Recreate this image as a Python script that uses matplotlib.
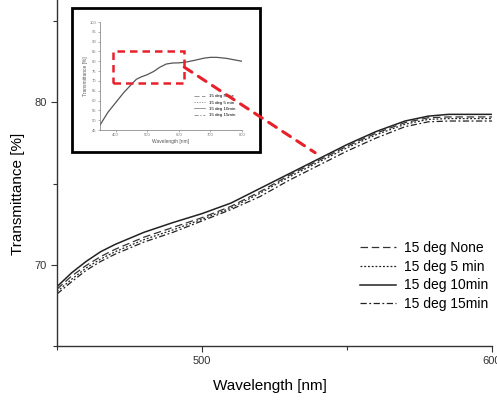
import matplotlib
matplotlib.use("Agg")
import matplotlib.pyplot as plt
from matplotlib.patches import Rectangle, ConnectionPatch
from matplotlib.ticker import MultipleLocator

plt.rcParams['font.family'] = ['Liberation Sans', 'DejaVu Sans']

# ---- data ----
wavelength = [450, 455, 460, 465, 470, 480, 490, 500, 510, 520, 530, 540, 550, 560, 570, 578, 585, 600]
t_none = [68.5, 69.3, 69.95, 70.5, 70.95, 71.7, 72.3, 72.9, 73.6, 74.5, 75.5, 76.4, 77.3, 78.1, 78.75, 79.05, 79.1, 79.1]
t_5min = [68.35, 69.1, 69.8, 70.35, 70.8, 71.55, 72.15, 72.8, 73.5, 74.4, 75.4, 76.3, 77.2, 78.0, 78.65, 78.95, 79.0, 79.0]
t_10min = [68.65, 69.5, 70.2, 70.8, 71.25, 72.0, 72.6, 73.15, 73.8, 74.7, 75.6, 76.5, 77.4, 78.2, 78.85, 79.15, 79.26, 79.26]
t_15min = [68.2, 68.95, 69.65, 70.2, 70.65, 71.4, 72.0, 72.7, 73.4, 74.2, 75.2, 76.1, 77.0, 77.8, 78.5, 78.8, 78.85, 78.85]
labels = ["15 deg None", "15 deg 5 min", "15 deg 10min", "15 deg 15min"]

inset_wl = [350, 375, 400, 425, 450, 465, 480, 500, 520, 540, 560, 580, 600, 620, 650, 680, 700, 720, 750, 780, 800]
inset_t = [47.5, 54.0, 59.0, 64.0, 68.3, 70.8, 72.0, 73.2, 74.8, 77.0, 78.6, 79.1, 79.2, 79.5, 80.5, 81.6, 82.0, 82.0, 81.5, 80.6, 80.0]

W, H = 497, 401
fig = plt.figure(figsize=(W / 100, H / 100), dpi=100)

def rect(x0, y0, x1, y1):
    return [x0 / W, 1 - y1 / H, (x1 - x0) / W, (y1 - y0) / H]

ax = fig.add_axes(rect(57, 0, 492, 346))
styles = [dict(ls=(0, (6, 3)), color='#333333', lw=0.9),
          dict(ls=(0, (1.5, 1.5)), color='#222222', lw=0.9),
          dict(ls='-', color='#222222', lw=1.1),
          dict(ls=(0, (5, 2, 1.5, 2)), color='#222222', lw=0.9)]
for ys, lab, st in zip([t_none, t_5min, t_10min, t_15min], labels, styles):
    ax.plot(wavelength, ys, label=lab, **st)

ax.set_xlim(450, 600)
ax.set_ylim(65, 86.3)
ax.spines['top'].set_visible(False)
ax.spines['right'].set_visible(False)
for s in ['left', 'bottom']:
    ax.spines[s].set_color('#333333')
    ax.spines[s].set_linewidth(1.0)
ax.set_xticks([500, 600])
ax.xaxis.set_minor_locator(MultipleLocator(50))
ax.set_yticks([70, 80])
ax.yaxis.set_minor_locator(MultipleLocator(5))
ax.tick_params(which='both', direction='out', labelsize=8, colors='#333333', length=4, width=0.8)
ax.tick_params(which='minor', length=3)
ax.set_xlabel("Wavelength [nm]", fontsize=11)
ax.set_ylabel("Transmittance [%]", fontsize=11)
ax.xaxis.set_label_coords(0.49, -0.095)
ax.yaxis.set_label_coords(-0.074, 0.44)
leg = ax.legend(loc='lower right', bbox_to_anchor=(1.02, 0.065), frameon=False, fontsize=10,
                handlelength=2.6, handletextpad=0.6, labelspacing=0.33)

# inset frame
frame = Rectangle((72 / W, 1 - 152 / H), (260 - 72) / W, (152 - 8) / H, transform=fig.transFigure,
                  facecolor='white', edgecolor='black', lw=2.0, zorder=5)
fig.patches.append(frame)

axi = fig.add_axes(rect(100, 22, 242, 130), zorder=6)
axi.plot(inset_wl, inset_t, color='#555555', lw=0.9, ls='-')
for lab, st in zip(labels, styles):
    axi.plot([], [], label=lab, color='#888888', lw=0.6, ls=st['ls'])
axi.set_xlim(350, 800)
axi.set_ylim(45, 100)
axi.set_xticks([400, 500, 600, 700, 800])
axi.set_yticks(range(45, 101, 5))
axi.tick_params(labelsize=3, length=1.5, width=0.4, colors='#777777', pad=1)
for s in ['top', 'right']:
    axi.spines[s].set_visible(False)
for s in ['left', 'bottom']:
    axi.spines[s].set_linewidth(0.5)
    axi.spines[s].set_color('#777777')
axi.set_xlabel("Wavelength [nm]", fontsize=3.5, labelpad=1, color='#555555')
axi.set_ylabel("Transmittance [%]", fontsize=3.5, labelpad=1, color='#555555')
axi.legend(loc='lower right', bbox_to_anchor=(0.98, 0.08), frameon=False, fontsize=3.2,
           handlelength=2.5, labelspacing=0.5)

red = '#e8202a'
axi.add_patch(Rectangle((390, 69), 227, 16, fill=False, edgecolor=red, lw=1.8,
                        ls=(0, (3, 2)), zorder=7, clip_on=False))
con = ConnectionPatch(xyA=(617, 77), coordsA=axi.transData,
                      xyB=(539, 76.9), coordsB=ax.transData,
                      color=red, lw=2.2, ls=(0, (3, 2.5)), zorder=8)
fig.add_artist(con)

fig.savefig("out.png", dpi=100)
